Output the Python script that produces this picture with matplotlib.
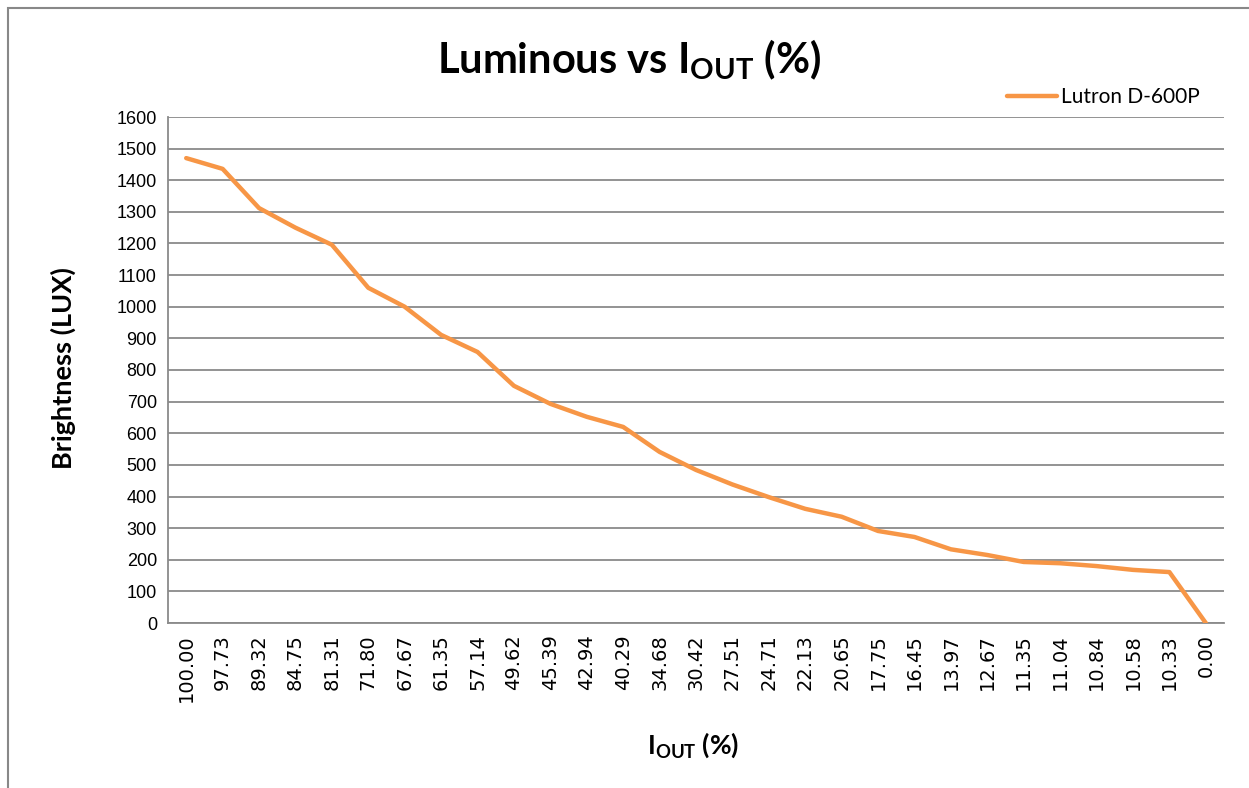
import matplotlib
matplotlib.use("agg")
from matplotlib import pyplot as plt
from matplotlib.patches import Rectangle
import numpy as np

# I_OUT (%) categories and measured brightness
iout_labels = ["100.00", "97.73", "89.32", "84.75", "81.31", "71.80", "67.67",
               "61.35", "57.14", "49.62", "45.39", "42.94", "40.29", "34.68",
               "30.42", "27.51", "24.71", "22.13", "20.65", "17.75", "16.45",
               "13.97", "12.67", "11.35", "11.04", "10.84", "10.58", "10.33",
               "0.00"]
lux = [1470, 1436, 1312, 1250, 1196, 1060, 1000, 911, 857, 750, 693, 652,
       620, 541, 484, 438, 398, 361, 336, 291, 272, 233, 215, 193, 189, 180,
       168, 161, 0]
yticks = np.arange(0, 1700, 100)

plt.rcParams['mathtext.fontset'] = 'custom'
plt.rcParams['mathtext.rm'] = 'Lato'
plt.rcParams['mathtext.bf'] = 'Lato:bold'

fig = plt.figure(figsize=(12.49, 7.88), dpi=100)
ax = fig.add_axes([168/1249, 1 - 623/788, (1224-168)/1249, (623-117)/788])

x = np.arange(len(iout_labels))
ax.plot(x, lux, color="#F79646", lw=3.2, solid_capstyle="round",
        solid_joinstyle="round", label="Lutron D-600P", zorder=3)

ax.set_xlim(-0.5, len(iout_labels) - 0.5)
ax.set_ylim(0, 1600)
ax.set_yticks(yticks)
ax.set_yticklabels([str(v) for v in yticks], family="Liberation Sans", fontsize=13)
ax.set_xticks(x)
ax.set_xticklabels(iout_labels, rotation=90, family="DejaVu Sans", fontsize=14)
ax.tick_params(length=0, pad=8)
ax.grid(axis="y", color="#8a8a8a", lw=1.3)
ax.set_axisbelow(True)
for s in ["top", "right"]:
    ax.spines[s].set_visible(False)
for s in ["left", "bottom"]:
    ax.spines[s].set_color("#8a8a8a")
    ax.spines[s].set_linewidth(1.3)

fig.text(629/1249, 1 - 60/788, r"Luminous vs I$_\mathbf{OUT}$ (%)", ha="center", va="center",
         family="Lato", fontweight="bold", fontsize=30)
fig.text(63/1249, 1 - 368/788, "Brightness (LUX)", rotation=90, ha="center", va="center",
         family="Lato", fontweight="bold", fontsize=19.5)
fig.text(693/1249, 1 - 745/788, r"I$_\mathbf{OUT}$ (%)", ha="center", va="center",
         family="Lato", fontweight="bold", fontsize=19)

leg = fig.legend(loc="center left", bbox_to_anchor=(988/1249, 1 - 97/788), frameon=False,
                 prop={"family": "Lato", "size": 15}, handlelength=2.4, handletextpad=0.2)

# outer chart border
fig.patches.append(Rectangle((8/1249, -0.1), 1.2, 1 - 8/788 + 0.1, transform=fig.transFigure,
                             fill=False, edgecolor="#888888", lw=1.5))

fig.savefig("out.png", dpi=100)
